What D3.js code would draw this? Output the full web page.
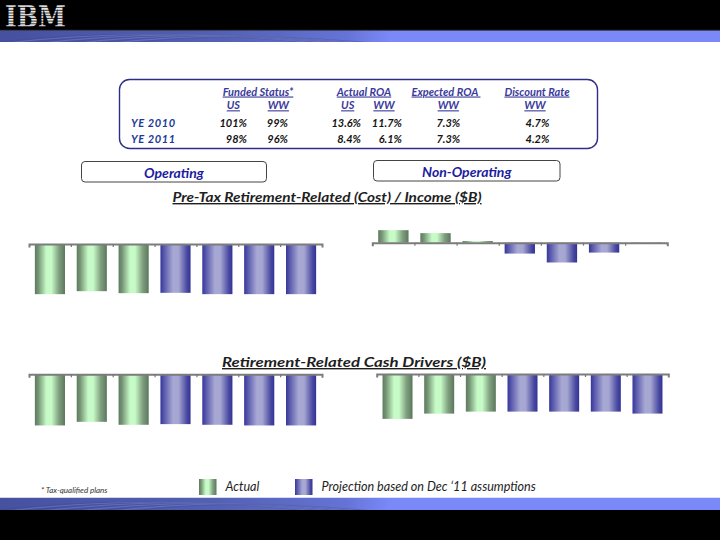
<!DOCTYPE html>
<html>
<head>
<meta charset="utf-8">
<script src="https://cdn.jsdelivr.net/npm/d3@7"></script>
<style>
  body { margin: 0; background: #fff; }
  svg { display: block; font-family: Lato, 'Open Sans', sans-serif; }
  .u { text-decoration: underline; }
</style>
</head>
<body>
<div id="chart"></div>
<script>
// ---- data ($B) ----
const years = ['2009', '2010', '2011', '2012', '2013', '2014', '2015'];
const actualYears = ['2009', '2010', '2011'];
const operatingCost = [-1.52, -1.43, -1.49, -1.48, -1.52, -1.52, -1.52];
const nonOperatingCost = [0.38, 0.29, 0.05, -0.33, -0.6, -0.3, -0.03];
const operatingCash = [-1.55, -1.44, -1.53, -1.51, -1.53, -1.55, -1.55];
const nonOperatingCash = [-1.36, -1.2, -1.14, -1.14, -1.14, -1.14, -1.2];

const tableRows = ['YE 2010', 'YE 2011'];
const fundedUS = ['101%', '98%'];
const fundedWW = ['99%', '96%'];
const actualRoaUS = ['13.6%', '8.4%'];
const actualRoaWW = ['11.7%', '6.1%'];
const expectedRoaWW = ['7.3%', '7.3%'];
const discountRateWW = ['4.7%', '4.2%'];

const width = 720;
const height = 540;

const svg = d3
  .select('#chart')
  .append('svg')
  .attr('width', width)
  .attr('height', height);

const defs = svg.append('defs');

function gradient(id, stops) {
  const g = defs
    .append('linearGradient')
    .attr('id', id)
    .attr('x1', 0)
    .attr('y1', 0)
    .attr('x2', 1)
    .attr('y2', 0);
  stops.forEach(([o, c]) => g.append('stop').attr('offset', o).attr('stop-color', c));
}

gradient('green', [
  [0, '#5d7a5d'],
  [0.12, '#769676'],
  [0.38, '#c6fac6'],
  [0.55, '#c6fac6'],
  [0.8, '#7f9f7f'],
  [1, '#5c775c']
]);
gradient('blue', [
  [0, '#36369a'],
  [0.12, '#5858ac'],
  [0.42, '#a8a8d4'],
  [0.6, '#a6a6d2'],
  [0.88, '#4a4aa2'],
  [1, '#323296']
]);
gradient('band', [
  [0, '#4651a0'],
  [0.3, '#5360b3'],
  [0.48, '#6573d6'],
  [0.54, '#7a88f8'],
  [1, '#7a88f8']
]);

// striped IBM logo
const stripes = defs
  .append('pattern')
  .attr('id', 'stripes')
  .attr('patternUnits', 'userSpaceOnUse')
  .attr('width', 10)
  .attr('height', 2.7)
  .attr('y', 5.4);
stripes.append('rect').attr('width', 10).attr('height', 1.7).attr('fill', '#f2f2f2');
stripes.append('rect').attr('y', 1.7).attr('width', 10).attr('height', 0.4).attr('fill', '#8a8a8a');

// ---- header / footer ----
svg.append('rect').attr('width', width).attr('height', 30).attr('fill', '#000');

[30, 497.5].forEach((by, k) => {
  const bh = k ? 12.5 : 12;
  defs
    .append('clipPath')
    .attr('id', `bandClip${k}`)
    .append('rect')
    .attr('y', by)
    .attr('width', width)
    .attr('height', bh);
  const band = svg.append('g').attr('clip-path', `url(#bandClip${k})`);
  band.append('rect').attr('y', by).attr('width', width).attr('height', bh).attr('fill', 'url(#band)');
  // faint swirl texture on the left of the band
  d3.range(9).forEach(i => {
    band
      .append('path')
      .attr('d', `M${-20 + i * 18},${by + bh + 2} Q${140 + i * 12},${by - 6 + i * 0.6} ${330 + i * 8},${by + bh + 3}`)
      .attr('fill', 'none')
      .attr('stroke', i % 2 ? '#8b96d8' : '#3c4690')
      .attr('stroke-opacity', 0.45)
      .attr('stroke-width', 0.8);
  });
});
svg.append('line').attr('x1', 0).attr('x2', width).attr('y1', 30.3).attr('y2', 30.3).attr('stroke', '#3a3a4a');
svg.append('rect').attr('y', 510).attr('width', width).attr('height', 30).attr('fill', '#000');

svg
  .append('text')
  .attr('x', 5)
  .attr('y', 27)
  .attr('textLength', 61)
  .attr('lengthAdjust', 'spacingAndGlyphs')
  .style('font-family', "'DejaVu Serif', serif")
  .style('font-weight', 'bold')
  .style('font-size', '29px')
  .attr('fill', 'url(#stripes)')
  .text('IBM');

// ---- assumptions table ----
svg
  .append('rect')
  .attr('x', 119.5)
  .attr('y', 79.5)
  .attr('width', 478)
  .attr('height', 69)
  .attr('rx', 10)
  .attr('fill', '#fff')
  .attr('stroke', '#2e2e86')
  .attr('stroke-width', 1.4);

const table = svg
  .append('g')
  .style('font-size', '11px')
  .style('font-weight', 'bold')
  .style('font-style', 'italic');

const headColor = '#3a3a9c';
const headers = [
  ['Funded Status*', 258],
  ['Actual ROA', 364],
  ['Expected ROA\u00a0', 446],
  ['Discount Rate', 537]
];
table
  .selectAll('text.h1')
  .data(headers)
  .join('text')
  .attr('class', 'h1 u')
  .attr('x', d => d[1])
  .attr('y', 95.5)
  .attr('text-anchor', 'middle')
  .attr('fill', headColor)
  .text(d => d[0]);

const subHeaders = [
  ['US', 233.3],
  ['WW', 278.3],
  ['US', 347.7],
  ['WW', 384],
  ['WW', 448.3],
  ['WW', 535]
];
table
  .selectAll('text.h2')
  .data(subHeaders)
  .join('text')
  .attr('class', 'h2 u')
  .attr('x', d => d[1])
  .attr('y', 109.3)
  .attr('text-anchor', 'middle')
  .attr('fill', headColor)
  .text(d => d[0]);

const rowY = [126.7, 142.7];
table
  .selectAll('text.row')
  .data(tableRows)
  .join('text')
  .attr('class', 'row')
  .attr('x', 131)
  .attr('y', (d, i) => rowY[i])
  .attr('fill', '#22399a')
  .style('letter-spacing', '0.6px')
  .text(d => d);

const columns = [
  { values: fundedUS, x: 247, anchor: 'end' },
  { values: fundedWW, x: 288, anchor: 'end' },
  { values: actualRoaUS, x: 361, anchor: 'end' },
  { values: actualRoaWW, x: 402, anchor: 'end' },
  { values: expectedRoaWW, x: 448.3, anchor: 'middle' },
  { values: discountRateWW, x: 537.5, anchor: 'middle' }
];
columns.forEach(col => {
  table
    .append('g')
    .selectAll('text')
    .data(col.values)
    .join('text')
    .attr('x', col.x)
    .attr('y', (d, i) => rowY[i])
    .attr('text-anchor', col.anchor)
    .attr('fill', '#141414')
    .text(d => d);
});

// ---- section boxes ----
const boxes = [
  ['Operating', 81.5, 161.5, 185, 20.5],
  ['Non-Operating', 373.5, 160.5, 186.5, 20.5]
];
boxes.forEach(([label, bx, by, bw, bh]) => {
  svg
    .append('rect')
    .attr('x', bx)
    .attr('y', by)
    .attr('width', bw)
    .attr('height', bh)
    .attr('rx', 3.5)
    .attr('fill', '#fff')
    .attr('stroke', '#444')
    .attr('stroke-width', 1);
  svg
    .append('text')
    .attr('x', bx + bw / 2)
    .attr('y', by + 16)
    .attr('text-anchor', 'middle')
    .attr('fill', '#1c1ca0')
    .style('font-size', '14px')
    .style('font-weight', 'bold')
    .style('font-style', 'italic')
    .text(label);
});

// ---- chart titles ----
const titles = [
  ['Pre-Tax Retirement-Related (Cost) / Income ($B)', 327, 202, 309],
  ['Retirement-Related Cash Drivers ($B)', 354, 367, 264]
];
titles.forEach(([t, tx, ty, tl]) => {
  svg
    .append('text')
    .attr('class', 'u')
    .attr('x', tx - tl / 2)
    .attr('y', ty)
    .attr('textLength', tl)
    .attr('lengthAdjust', 'spacingAndGlyphs')
    .attr('fill', '#1e1e1e')
    .style('font-size', '14px')
    .style('font-weight', 'bold')
    .style('font-style', 'italic')
    .text(t);
});

// ---- bar charts ----
const K = 33; // px per $B, shared by all four panels
const yDomain = [-2, 0.6];

const panels = [
  { values: operatingCost, x0: 29, x1: 322, axisY: 244 },
  { values: nonOperatingCost, x0: 372.3, x1: 667.3, axisY: 242.7 },
  { values: operatingCash, x0: 29, x1: 322, axisY: 374.3 },
  { values: nonOperatingCash, x0: 376.7, x1: 668.3, axisY: 374 }
];

panels.forEach(p => {
  const x = d3
    .scaleBand()
    .domain(years)
    .range([p.x0, p.x1])
    .paddingInner(0.28)
    .paddingOuter(0.14);
  const y = d3
    .scaleLinear()
    .domain(yDomain)
    .range([p.axisY - yDomain[0] * K, p.axisY - yDomain[1] * K]);

  const g = svg.append('g');
  const data = years.map((yr, i) => ({ year: yr, value: p.values[i] }));

  g.selectAll('rect')
    .data(data)
    .join('rect')
    .attr('x', d => x(d.year))
    .attr('width', x.bandwidth())
    .attr('y', d => Math.min(y(0), y(d.value)))
    .attr('height', d => Math.abs(y(d.value) - y(0)))
    .attr('fill', d => (actualYears.includes(d.year) ? 'url(#green)' : 'url(#blue)'));

  // category boundaries as axis ticks
  const edges = d3.scaleLinear().domain([0, years.length]).range([p.x0, p.x1]);
  const axis = g
    .append('g')
    .attr('transform', `translate(0, ${y(0)})`)
    .call(
      d3
        .axisBottom(edges)
        .tickValues(d3.range(1, years.length))
        .tickSize(3)
        .tickSizeOuter(3.5)
        .tickFormat('')
    );
  axis.select('.domain').attr('stroke', '#7c7c7c').attr('stroke-width', 2);
  axis.selectAll('.tick line').attr('stroke', '#777').attr('stroke-width', 1.2);
});

// ---- legend + footnote ----
const legend = [
  ['Actual', 'url(#green)', 199],
  ['Projection based on Dec \u201811 assumptions', 'url(#blue)', 295]
];
legend.forEach(([label, fill, lx]) => {
  svg
    .append('rect')
    .attr('x', lx)
    .attr('y', 479)
    .attr('width', 17.5)
    .attr('height', 16)
    .attr('fill', fill);
  svg
    .append('text')
    .attr('x', lx + 26.5)
    .attr('y', 491)
    .attr('fill', '#1e1e1e')
    .style('font-size', '12.6px')
    .style('font-style', 'italic')
    .text(label);
});

svg
  .append('text')
  .attr('x', 41)
  .attr('y', 493)
  .attr('fill', '#333')
  .style('font-size', '8px')
  .style('font-style', 'italic')
  .text('* Tax-qualified plans');
</script>
</body>
</html>
